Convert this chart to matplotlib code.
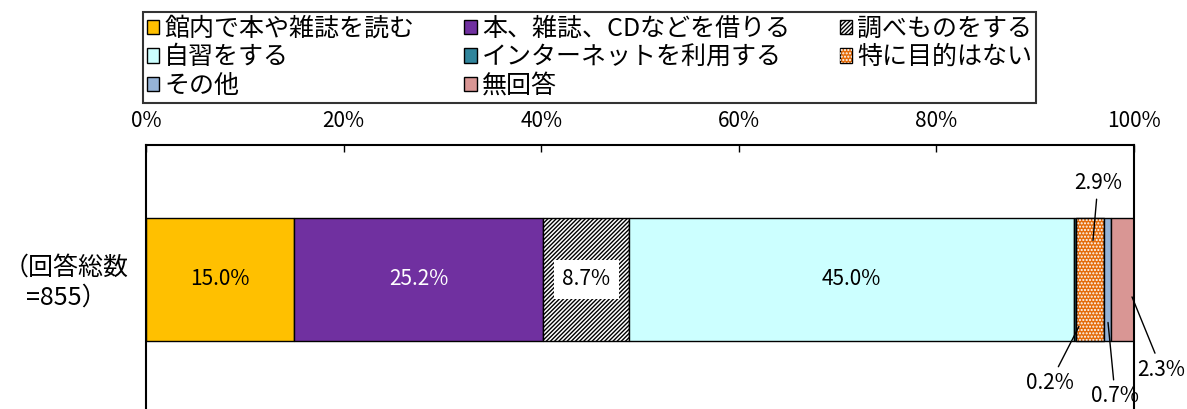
import matplotlib
import matplotlib.pyplot as plt
from matplotlib.legend_handler import HandlerTuple

matplotlib.use('agg')

plt.rcParams['font.family'] = ['Noto Sans CJK JP', 'DejaVu Sans']
plt.rcParams['hatch.linewidth'] = 1.0

categories = ['館内で本や雑誌を読む', '本、雑誌、CDなどを借りる', '調べものをする',
              '自習をする', 'インターネットを利用する', '特に目的はない',
              'その他', '無回答']
values = [15.0, 25.2, 8.7, 45.0, 0.2, 2.9, 0.7, 2.3]
row_label = '（回答総数\n=855）'
ticks = [0, 20, 40, 60, 80, 100]
tick_labels = ['0%', '20%', '40%', '60%', '80%', '100%']

colors = ['#FFC000', '#7030A0', 'white', '#CCFFFF', '#31859C', '#E46C0A', '#95B3D7', '#D99694']

fig = plt.figure(figsize=(11.87, 4.09), dpi=100)
ax = fig.add_axes([146 / 1187, -0.012, 988 / 1187, 0.6575])

handles = []
left = 0
for i, (cat, v) in enumerate(zip(categories, values)):
    hatch = '////////' if i == 2 else None
    b = ax.barh(0, v, left=left, height=0.914, color=colors[i],
                edgecolor='black', linewidth=1.0, hatch=hatch)
    h = b.patches[0]
    if i == 5:
        # white dots over the orange
        d = ax.barh(0, v, left=left, height=0.914, color='none',
                    edgecolor='white', linewidth=0, hatch='.....')
        ax.barh(0, v, left=left, height=0.914, color='none',
                edgecolor='black', linewidth=1.0)
        h = (b.patches[0], d.patches[0])
    handles.append(h)
    left += v

# labels inside the big segments
starts = [sum(values[:i]) for i in range(len(values))]
for i in range(4):
    cx = starts[i] + values[i] / 2
    txt = '%.1f%%' % values[i]
    if i == 1:
        ax.text(cx, 0, txt, ha='center', va='center', fontsize=15, color='white')
    elif i == 2:
        ax.text(cx, 0, txt, ha='center', va='center', fontsize=15,
                bbox=dict(facecolor='white', edgecolor='none', pad=6))
    else:
        ax.text(cx, 0, txt, ha='center', va='center', fontsize=15)

# small segments with leader lines
callouts = {4: ((94.43, -0.35), (91.5, -0.77)),
            5: ((95.85, 0.29), (96.36, 0.72)),
            6: ((97.37, -0.32), (98.1, -0.87)),
            7: ((99.8, -0.13), (102.8, -0.67))}
for i, (xy, xyt) in callouts.items():
    ax.annotate('%.1f%%' % values[i], xy=xy, xytext=xyt, ha='center', va='center',
                fontsize=15, annotation_clip=False,
                arrowprops=dict(arrowstyle='-', color='black', lw=1.0,
                                shrinkA=2, shrinkB=0))

ax.set_xlim(0, 100)
ax.set_ylim(-1, 1)
ax.set_yticks([])
ax.xaxis.tick_top()
ax.set_xticks(ticks)
ax.set_xticklabels(tick_labels)
ax.tick_params(axis='x', direction='in', length=5, width=1, pad=9, labelsize=15)
for s in ['top', 'left', 'right', 'bottom']:
    ax.spines[s].set_linewidth(1.5)

fig.text(66 / 1187, 1 - 283 / 409, row_label, ha='center', va='center',
         fontsize=18, multialignment='center', linespacing=1.2)

# legend is filled column by column, so reorder to read row by row
order = [0, 3, 6, 1, 4, 7, 2, 5]
leg = fig.legend([handles[k] for k in order], [categories[k] for k in order],
                 ncol=3, loc='upper left',
                 bbox_to_anchor=(143 / 1187, 1 - 12 / 409),
                 frameon=True, fancybox=False, edgecolor='black',
                 fontsize=18, handlelength=0.5, handleheight=0.5,
                 handletextpad=0.2, columnspacing=2.0, borderaxespad=0,
                 labelspacing=0.1, borderpad=0.15,
                 handler_map={tuple: HandlerTuple(ndivide=1, pad=0)})
leg.get_frame().set_linewidth(1.5)

fig.savefig('out.png', dpi=100)
